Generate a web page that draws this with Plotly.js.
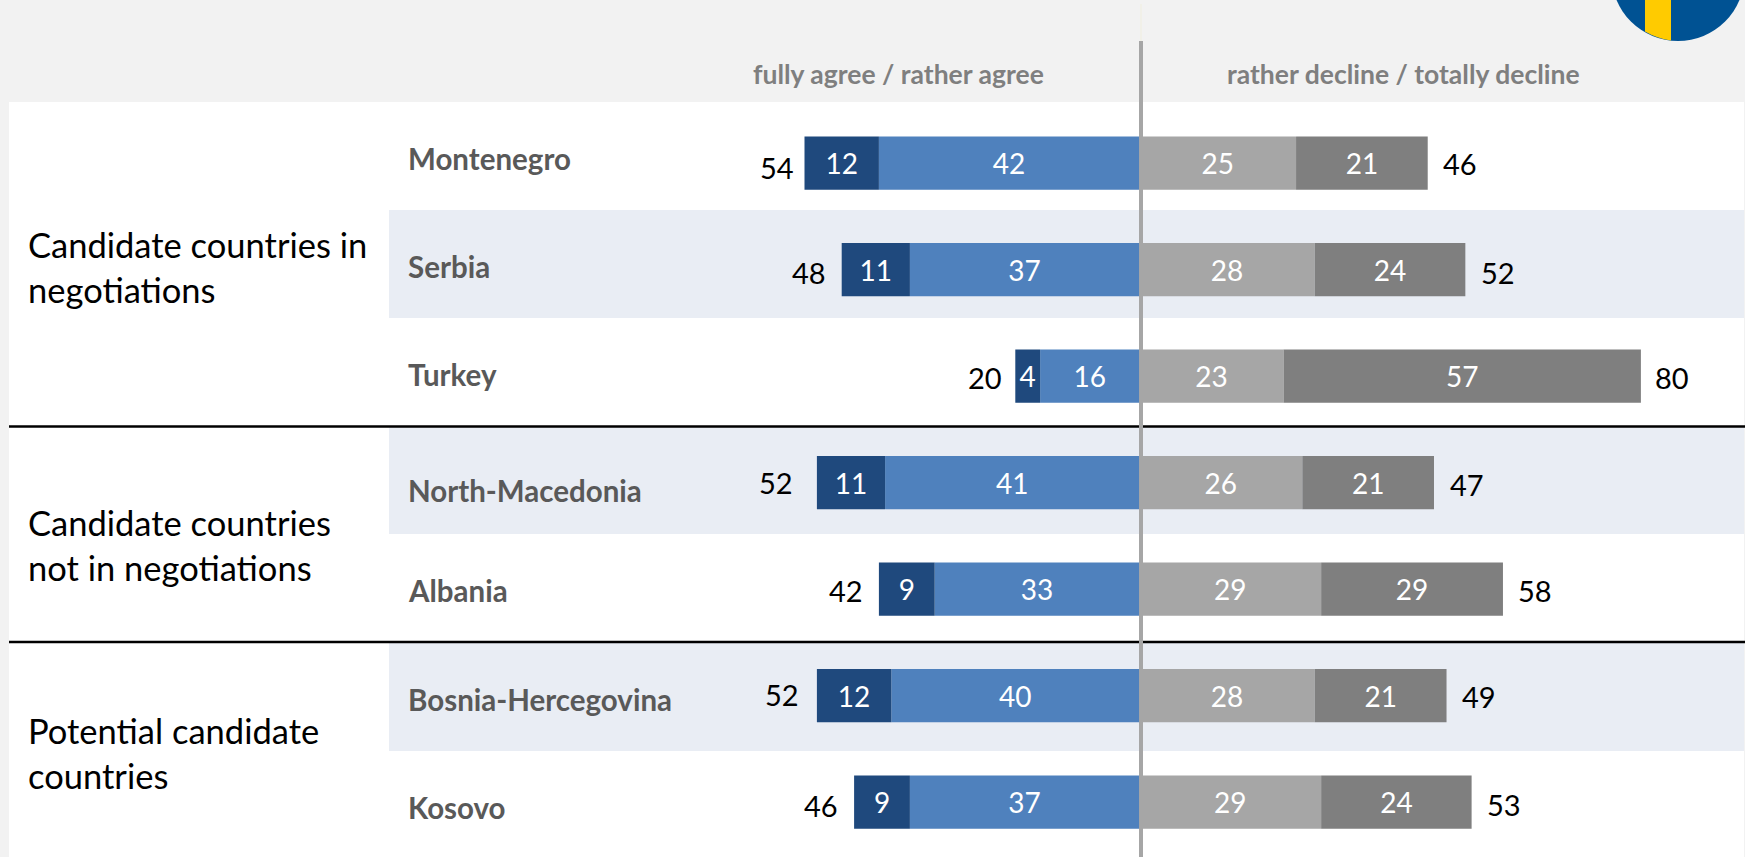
<!DOCTYPE html>
<html>
<head>
<meta charset="utf-8">
<script src="https://cdn.plot.ly/plotly-3.0.1.min.js"></script>
<style>html,body{margin:0;padding:0;background:#f2f2f2;overflow:hidden}</style>
</head>
<body>
<div id="chart" style="width:1745px;height:857px"></div>
<script>
// Data
const countries = ["Montenegro","Serbia","Turkey","North-Macedonia","Albania","Bosnia-Hercegovina","Kosovo"];
const fullyAgree = [12,11,4,11,9,12,9];
const ratherAgree = [42,37,16,41,33,40,37];
const ratherDecline = [25,28,23,26,29,28,29];
const totallyDecline = [21,24,57,21,29,21,24];
const totalAgree = [54,48,20,52,42,52,46];
const totalDecline = [46,52,80,47,58,49,53];
const groups = ["Candidate countries in<br>negotiations","Candidate countries<br>not in negotiations","Potential candidate<br>countries"];
const headers = ["fully agree / rather agree","rather decline / totally decline"];

// Layout helpers (page pixels)
const W = 1745, H = 857, ZERO = 1139.3, PXL = 6.2, PXR = 6.27;
const ROW0 = 163, PITCH = 106.5;
const px = x => x / W, py = y => 1 - y / H;
const FONT = "Lato, Carlito, Calibri, sans-serif";

// Hand placed offsets of the labels, as in the source slide
const nameY = [158,266,374,490,590,699,807];
const leftTotalX = [777,809,985,776,846,782,821];
const leftTotalY = [167,272,377,482,590,694,805];
const rightTotalX = [1460,1498,1672,1467,1535,1479,1504];
const rightTotalY = [164,272,377,484,590,696,804];

function barTrace(name, vals, xaxis, color, sign) {
  return {
    type: "bar", orientation: "h", name: name, xaxis: xaxis, yaxis: "y",
    y: countries, x: vals.map(v => sign * v),
    text: vals.map(String), textposition: "inside", insidetextanchor: "middle",
    textangle: 0, constraintext: "none",
    textfont: {family: FONT, size: 28, color: "#ffffff"},
    marker: {color: color, line: {width: 0}},
    width: 0.5, hoverinfo: "skip"
  };
}
const traces = [
  barTrace("rather agree", ratherAgree, "x", "#4f81bd", -1),
  barTrace("fully agree", fullyAgree, "x", "#1f497d", -1),
  barTrace("rather decline", ratherDecline, "x2", "#a6a6a6", 1),
  barTrace("totally decline", totallyDecline, "x2", "#7f7f7f", 1)
];

function rect(x0,y0,x1,y1,color){
  return {type:"rect",xref:"paper",yref:"paper",x0:px(x0),x1:px(x1),y0:py(y0),y1:py(y1),
          fillcolor:color,line:{width:0},layer:"below"};
}
function hline(y){
  return {type:"line",xref:"paper",yref:"paper",x0:px(9),x1:px(W),y0:py(y),y1:py(y),
          line:{color:"#000000",width:2.5},layer:"below"};
}
const shapes = [
  rect(0,0,W,H,"#f2f2f2"),
  rect(9,102,1744,H,"#ffffff"),
  rect(389,210,1744,318,"#e9edf4"),
  rect(389,427,1744,534,"#e9edf4"),
  rect(389,643,1744,751,"#e9edf4"),
  hline(426.5), hline(642),
  {type:"line",xref:"paper",yref:"paper",x0:px(1141),x1:px(1141),y0:py(4),y1:py(41),line:{color:"#f1efe4",width:1.5},layer:"below"},
  {type:"line",xref:"paper",yref:"paper",x0:px(1141),x1:px(1141),y0:py(41),y1:py(H),line:{color:"#a6a6a6",width:4},layer:"below"},
  // Swedish flag badge
  {type:"circle",xref:"paper",yref:"paper",x0:px(1678-66.6),x1:px(1678+66.6),y0:py(-25.6-66.6),y1:py(-25.6+66.6),
   fillcolor:"#005293",line:{width:0},layer:"above"},
  {type:"path",xref:"paper",yref:"paper",
   path:`M ${px(1645)} ${py(0)} L ${px(1671)} ${py(0)} L ${px(1671)} ${py(40.5)} Q ${px(1657)} ${py(38.5)} ${px(1645)} ${py(31.5)} Z`,
   fillcolor:"#ffcb00",line:{width:0},layer:"above"}
];

const annotations = [];
function note(text,x,y,size,color,bold,anchor){
  annotations.push({xref:"paper",yref:"paper",x:px(x),y:py(y),text:bold?`<b>${text}</b>`:text,showarrow:false,
    xanchor:anchor,yanchor:"middle",align:"left",font:{family:FONT,size:size,color:color}});
}
countries.forEach((c,i)=>{
  note(c,406,nameY[i],29.5,"#595959",true,"left");
  note(String(totalAgree[i]),leftTotalX[i],leftTotalY[i],29,"#000000",false,"center");
  note(String(totalDecline[i]),rightTotalX[i],rightTotalY[i],29,"#000000",false,"center");
});
note(headers[0],898,74,26.5,"#7f7f7f",true,"center");
note(headers[1],1403,74,26.5,"#7f7f7f",true,"center");
annotations.push(...[[25.5,267],[25.5,545],[25.5,753]].map((p,i)=>({xref:"paper",yref:"paper",x:px(p[0]),y:py(p[1]),text:groups[i],
  showarrow:false,xanchor:"left",yanchor:"middle",align:"left",font:{family:FONT,size:34.5,color:"#000000"},
  })));

const layout = {
  width: W, height: H, margin: {l:0,r:0,t:0,b:0,pad:0},
  paper_bgcolor: "#f2f2f2", plot_bgcolor: "rgba(0,0,0,0)",
  barmode: "relative", bargap: 0.5, showlegend: false,
  xaxis: {domain:[0,px(ZERO)], range:[-ZERO/PXL,0], visible:false, fixedrange:true},
  xaxis2: {domain:[px(ZERO),1], range:[0,(W-ZERO)/PXR], visible:false, fixedrange:true},
  yaxis: {domain:[0,1], type:"category", categoryorder:"array", categoryarray:countries,
          range:[(H-ROW0)/PITCH, -ROW0/PITCH], visible:false, fixedrange:true},
  shapes: shapes, annotations: annotations
};
Plotly.newPlot("chart", traces, layout, {displayModeBar:false, staticPlot:true});
</script>
</body>
</html>
